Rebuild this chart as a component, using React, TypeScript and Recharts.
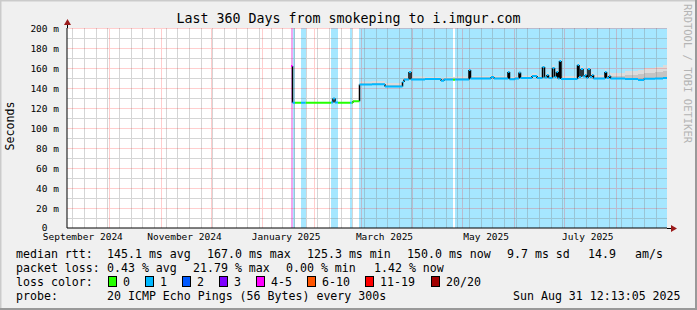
import { ComposedChart, Line, Area, XAxis, YAxis, CartesianGrid } from "recharts";

const MONO = "'DejaVu Sans Mono', monospace";

// graph starts 360 days before Sun Aug 31 12:13 2025
const START = Date.UTC(2024, 8, 5, 12, 13);
const DAY = 86400000;
const d = (y: number, m: number, day: number) => (Date.UTC(y, m, day) - START) / DAY;

const LABEL_DAYS = [d(2024, 8, 15), d(2024, 10, 15), d(2025, 0, 15), d(2025, 2, 15), d(2025, 4, 15), d(2025, 6, 15)];
const LABEL_TEXT = ["September 2024", "November 2024", "January 2025", "March 2025", "May 2025", "July 2025"];
const MONTH_DAYS = [
  d(2024, 9, 1), d(2024, 10, 1), d(2024, 11, 1), d(2025, 0, 1), d(2025, 1, 1), d(2025, 2, 1),
  d(2025, 3, 1), d(2025, 4, 1), d(2025, 5, 1), d(2025, 6, 1), d(2025, 7, 1),
];
const WEEK_DAYS: number[] = [];
for (let w = d(2024, 8, 9); w < 360; w += 7) WEEK_DAYS.push(w);

const Y_TICKS = [0, 20, 40, 60, 80, 100, 120, 140, 160, 180, 200];
const Y_MINOR = [10, 30, 50, 70, 90, 110, 130, 150, 170, 190];

// median rtt (ms) change points, days since start
const MED_DAYS = [
  134.4, 135.3, 136.8, 140.4, 143.1, 158.4, 159.6, 160.8, 162.6, 169.8, 170.7, 171.6,
  175.5, 183, 190.8, 201.3, 202.2, 205.2, 206.4, 214.8, 224.4, 226.2, 231.6, 232.8,
  241.2, 242.1, 254.4, 256.2, 264.6, 265.5, 268.8, 271.2, 272.1, 279, 282, 285.3,
  286.5, 288, 288.9, 291.3, 292.5, 293.7, 294.6, 295.5, 296.4, 306.3, 307.2, 308.4,
  309.6, 310.8, 311.7, 312.6, 313.8, 315, 315.9, 322.8, 323.7, 325.2, 326.1, 334.8,
  342.6, 346.2, 352.8, 357.6,
];
const MED_MS = [
  162, 125.3, 125.3, 125.3, 125.3, 125.5, 129.5, 125.5, 125.3, 125.3, 125.3, 126.7,
  143.5, 143.8, 141.5, 146, 148.5, 156, 148.5, 149, 147.3, 148.5, 148.3, 148.5,
  158, 149.5, 151, 149.5, 156, 148.8, 149.5, 155.5, 150, 152, 150, 161,
  150.5, 153, 150, 160, 151, 156, 149.5, 167, 149, 163, 151, 159,
  151.5, 153, 150, 159, 151, 153, 149.5, 156, 150, 152, 149.5, 149,
  148, 149.3, 149.5, 150,
];
// loss class index per change point (0 = no loss, 1 = 1/20, 4 = 4-5/20)
const MED_LOSS = [
  4, 1, 0, 1, 0, 1, 1, 1, 0, 1, 0, 0,
  1, 1, 1, 1, 1, 1, 1, 1, 1, 1, 0, 1,
  1, 1, 1, 1, 1, 1, 1, 1, 1, 1, 1, 1,
  1, 1, 1, 1, 1, 1, 1, 1, 1, 1, 1, 1,
  1, 1, 1, 1, 1, 1, 1, 1, 1, 1, 1, 1,
  1, 1, 1, 1,
];
// smoke (ping spread) upper edges
const SMOKE_HI = [
  162, 125.3, 125.3, 125.3, 125.3, 125.5, 131, 125.5, 125.3, 125.3, 125.3, 126.7,
  146.5, 147, 145, 149, 151.5, 158, 151.5, 151, 150, 151, 151, 151.5,
  160, 152, 153, 152, 158, 151, 152, 157, 152.5, 155, 152.5, 163,
  153, 156, 153, 163, 154, 158, 152, 170, 152, 166, 154, 162,
  154, 156, 153, 162, 154, 156, 153, 159, 154, 156, 155, 157,
  158, 160, 161, 163,
];
const SMOKE_MID = [
  162, 125.3, 125.3, 125.3, 125.3, 125.5, 129.5, 125.5, 125.3, 125.3, 125.3, 126.7,
  144.5, 145, 143, 147, 149.5, 157, 149.5, 150, 148.5, 149.5, 149.5, 149.5,
  159, 150.5, 152, 150.5, 157, 150, 150.5, 156, 151, 153, 151, 162,
  151.5, 154, 151, 161, 152, 157, 150.5, 168, 150, 164, 152, 160,
  152.5, 154, 151, 160, 152, 154, 150.5, 157, 152, 153, 152, 153,
  154, 155, 156, 157,
];

const LOSS_COLORS = ["#26ff00", "#00b8ff", "#0059ff", "#7e00ff", "#ff00ff", "#ff5500", "#ff0000", "#a10000"];
const LOSS_BG = ["#ffffff", "#a6e7ff", "#a6c6ff", "#d4a6ff", "#f0a6f0", "#ffcca6", "#ffa6a6", "#e2a6a6"];
const LOSS_LABELS = ["0", "1", "2", "3", "4-5", "6-10", "11-19", "20/20"];

const ENDS = MED_DAYS.slice(1).concat([360]);

type Row = { t: number; v: number | null };

const segmentsFor = (cls: number) => {
  const rows: Row[] = [];
  MED_DAYS.forEach((t, i) => {
    if (MED_LOSS[i] !== cls) return;
    rows.push({ t, v: MED_MS[i] }, { t: ENDS[i], v: MED_MS[i] }, { t: ENDS[i], v: null });
  });
  return rows;
};

const VERTICALS: Row[] = [];
MED_DAYS.forEach((t, i) => {
  if (i === 0) return;
  VERTICALS.push({ t, v: MED_MS[i - 1] }, { t, v: MED_MS[i] }, { t, v: null });
});

const SMOKE = MED_DAYS.map((t, i) => ({ t, hi: [MED_MS[i], SMOKE_HI[i]], mid: [MED_MS[i], SMOKE_MID[i]] }));
SMOKE.push({ t: 360, hi: SMOKE[SMOKE.length - 1].hi, mid: SMOKE[SMOKE.length - 1].mid });

// loss background: stripe edges + one colour per stripe (white where no loss)
const STRIPE_EDGES: number[] = [0];
const STRIPE_FILLS: string[] = [];
MED_DAYS.forEach((t, i) => {
  const fill = LOSS_BG[MED_LOSS[i]];
  if (STRIPE_FILLS.length && STRIPE_FILLS[STRIPE_FILLS.length - 1] === fill) return;
  if (t > 0) {
    if (!STRIPE_FILLS.length) STRIPE_FILLS.push(LOSS_BG[0]);
    STRIPE_EDGES.push(t);
  }
  STRIPE_FILLS.push(fill);
});

// grid lines as broken polylines through the chart scales
const hRows = (vals: number[]): Row[] => vals.flatMap((v) => [{ t: 0, v }, { t: 360, v }, { t: 360, v: null }]);
const vRows = (days: number[]): Row[] => days.flatMap((t) => [{ t, v: 0 }, { t, v: 200 }, { t, v: null }]);
const GRID_MINOR = [...hRows(Y_MINOR), ...vRows(WEEK_DAYS)];
const GRID_MAJOR = [...hRows(Y_TICKS.filter((v) => v > 0)), ...vRows(MONTH_DAYS)];

const NO_LINE = (p: any) => <g key={p.key ?? p.index} />;

const XTick = (p: any) => (
  <text x={p.x} y={p.y} dy={4} textAnchor="middle" fontSize={9.5} fontFamily={MONO} fill="#000">
    {LABEL_TEXT[p.index]}
  </text>
);

const YTick = (p: any) => {
  const v = p.payload.value;
  return (
    <text x={v === 0 ? p.x - 11.5 : p.x} y={p.y} dy={v === 0 ? 2.5 : 3.5} textAnchor="end" fontSize={9.5} fontFamily={MONO} fill="#000">
      {v === 0 ? "0" : `${v} m`}
    </text>
  );
};

const LEGEND_ROW1 = [
  ["median rtt:", 16], ["145.1 ms avg", 107], ["167.0 ms max", 207], ["125.3 ms min", 307],
  ["150.0 ms now", 407], ["9.7 ms sd", 507], ["14.9", 588], ["am/s", 635],
] as const;
const LEGEND_ROW2 = [
  ["packet loss:", 16], ["0.43 % avg", 107], ["21.79 % max", 193], ["0.00 % min", 286], ["1.42 % now", 374],
] as const;
const SWATCH_X = [108, 145, 182, 219, 256, 307, 365, 431];

const rowStyle = (top: number): React.CSSProperties => ({
  position: "absolute",
  top,
  left: 0,
  fontSize: 11.6,
  lineHeight: "14px",
  whiteSpace: "pre",
  color: "#000",
});

export default function App() {
  return (
    <div
      style={{
        position: "absolute",
        left: 0,
        top: 0,
        width: 697,
        height: 310,
        background: "#f0f0f0",
        fontFamily: MONO,
        overflow: "hidden",
      }}
    >
      <div style={{ position: "absolute", left: 0, top: 11, width: 697, textAlign: "center", fontSize: 13.3, lineHeight: "16px" }}>
        Last 360 Days from smokeping to i.imgur.com
      </div>

      <ComposedChart
        width={697}
        height={310}
        margin={{ top: 28, right: 30, bottom: 62, left: 7 }}
        style={{ position: "absolute", left: 0, top: 0 }}
      >
        <CartesianGrid
          fill="#ffffff"
          fillOpacity={1}
          horizontal={false}
          vertical={NO_LINE}
          verticalValues={STRIPE_EDGES}
          verticalFill={STRIPE_FILLS}
        />
        <XAxis
          type="number"
          dataKey="t"
          domain={[0, 360]}
          ticks={LABEL_DAYS}
          interval={0}
          tick={<XTick />}
          tickLine={false}
          axisLine={{ stroke: "#000" }}
          height={20}
          allowDataOverflow
        />
        <YAxis
          type="number"
          domain={[0, 200]}
          ticks={Y_TICKS}
          interval={0}
          tick={<YTick />}
          tickLine={false}
          axisLine={{ stroke: "#000" }}
          width={60}
          allowDataOverflow
        />
        <Area data={SMOKE} dataKey="hi" type="stepAfter" fill="#dcdcdc" fillOpacity={1} stroke="none" isAnimationActive={false} />
        <Area data={SMOKE} dataKey="mid" type="stepAfter" fill="#c4c4c4" fillOpacity={1} stroke="none" isAnimationActive={false} />
        <Line
          data={GRID_MINOR}
          dataKey="v"
          type="linear"
          stroke="#808080"
          strokeOpacity={0.33}
          strokeWidth={1}
          shapeRendering="crispEdges"
          dot={false}
          activeDot={false}
          isAnimationActive={false}
        />
        <Line
          data={GRID_MAJOR}
          dataKey="v"
          type="linear"
          stroke="#ff2020"
          strokeOpacity={0.22}
          strokeWidth={1}
          shapeRendering="crispEdges"
          dot={false}
          activeDot={false}
          isAnimationActive={false}
        />
        <Line data={VERTICALS} dataKey="v" type="linear" stroke="#000" strokeWidth={1.5} dot={false} activeDot={false} isAnimationActive={false} />
        {[0, 1, 4].map((cls) => (
          <Line
            key={"l" + cls}
            data={segmentsFor(cls)}
            dataKey="v"
            type="linear"
            stroke={LOSS_COLORS[cls]}
            strokeWidth={2}
            dot={false}
            activeDot={false}
            isAnimationActive={false}
          />
        ))}
      </ComposedChart>

      <svg width={697} height={310} style={{ position: "absolute", left: 0, top: 0, pointerEvents: "none" }}>
        <line x1={0.5} y1={0} x2={0.5} y2={310} stroke="#cbcbcb" strokeWidth={2} />
        <line x1={0} y1={0.5} x2={697} y2={0.5} stroke="#cbcbcb" strokeWidth={2} />
        <line x1={696} y1={0} x2={696} y2={310} stroke="#999" strokeWidth={2} />
        <line x1={0} y1={309} x2={697} y2={309} stroke="#999" strokeWidth={2} />
        <line x1={667} y1={228.5} x2={672} y2={228.5} stroke="#000" />
        <polygon points="671,225 677,228.5 671,232" fill="#9b1b1b" />
        <line x1={67.5} y1={28} x2={67.5} y2={24} stroke="#000" />
        <polygon points="64,25 67.5,19 71,25" fill="#9b1b1b" />
        <text x={10} y={126} transform="rotate(-90 10 126)" textAnchor="middle" dominantBaseline="central" fontSize={11.6} fontFamily={MONO}>
          Seconds
        </text>
        <text x={688} y={4} transform="rotate(90 688 4)" textAnchor="start" dominantBaseline="central" fontSize={10.5} fontFamily={MONO} fill="#b4b4b4">
          RRDTOOL / TOBI OETIKER
        </text>
      </svg>

      <div style={rowStyle(247)}>
        {LEGEND_ROW1.map(([s, x]) => (
          <span key={s} style={{ position: "absolute", left: x }}>{s}</span>
        ))}
      </div>
      <div style={rowStyle(261)}>
        {LEGEND_ROW2.map(([s, x]) => (
          <span key={s} style={{ position: "absolute", left: x }}>{s}</span>
        ))}
      </div>
      <div style={rowStyle(275)}>
        <span style={{ position: "absolute", left: 16 }}>loss color:</span>
        {LOSS_LABELS.map((s, i) => (
          <span key={s}>
            <span
              style={{
                position: "absolute",
                left: SWATCH_X[i],
                top: 1,
                width: 7,
                height: 9,
                background: LOSS_COLORS[i],
                border: "1px solid #000",
              }}
            />
            <span style={{ position: "absolute", left: SWATCH_X[i] + 15 }}>{s}</span>
          </span>
        ))}
      </div>
      <div style={rowStyle(289)}>
        <span style={{ position: "absolute", left: 16 }}>probe:</span>
        <span style={{ position: "absolute", left: 107 }}>20 ICMP Echo Pings (56 Bytes) every 300s</span>
        <span style={{ position: "absolute", left: 513 }}>Sun Aug 31 12:13:05 2025</span>
      </div>
    </div>
  );
}
